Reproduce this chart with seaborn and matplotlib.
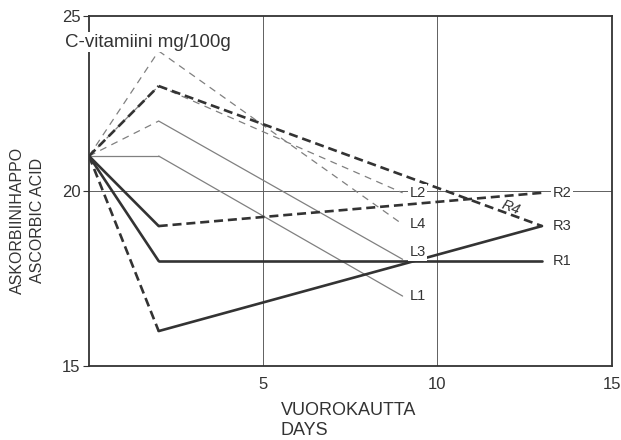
import matplotlib
matplotlib.use("Agg")
import matplotlib.pyplot as plt
import seaborn as sns
import pandas as pd

# ---- data ----
days_L = [0, 2, 9]
L1 = [21.0, 21.0, 17.0]
L2 = [21.0, 23.0, 19.95]
L3 = [21.0, 22.0, 18.05]
L4 = [21.0, 24.0, 19.05]

days_R = [0, 2, 13]
R1 = [21.0, 18.0, 18.0]
R2 = [21.0, 19.0, 19.95]
R3 = [21.0, 16.0, 19.0]
R4 = [21.0, 23.0, 19.0]

x_ticks = [5, 10, 15]
y_ticks = [15, 20, 25]

sns.set_theme(style="white")
plt.rcParams["font.family"] = ["Liberation Sans", "DejaVu Sans"]
plt.rcParams["lines.scale_dashes"] = False

fig = plt.figure(figsize=(6.21, 4.40), dpi=100)
ax = fig.add_axes([0.1433, 0.168, 0.8417, 0.7956])

thin = dict(color="#808080", lw=0.9)
thick = dict(color="#333333", lw=1.9)
dash_thin = (0, (5.0, 4.0))
dash_thick = (0, (6.5, 3.5))

series = [
    (days_L, L1, ["-", "-"], thin, dash_thin),
    (days_L, L2, ["--", "--"], thin, dash_thin),
    (days_L, L3, ["--", "-"], thin, dash_thin),
    (days_L, L4, ["--", "--"], thin, dash_thin),
    (days_R, R1, ["-", "-"], thick, dash_thick),
    (days_R, R2, ["-", "--"], thick, dash_thick),
    (days_R, R3, ["--", "-"], thick, dash_thick),
    (days_R, R4, ["--", "--"], thick, dash_thick),
]

for xs, ys, styles, st, dsh in series:
    for i, s in enumerate(styles):
        seg = pd.DataFrame({"d": xs[i:i + 2], "v": ys[i:i + 2]})
        ls = "-" if s == "-" else dsh
        sns.lineplot(data=seg, x="d", y="v", ax=ax, color=st["color"],
                     lw=st["lw"], linestyle=ls, zorder=3)

# grid lines
for gx in [5, 10]:
    ax.axvline(gx, color="#606060", lw=0.7, zorder=1)
ax.axhline(20, color="#606060", lw=0.7, zorder=1)

ax.set_xlim(0, 15)
ax.set_ylim(15, 25)
ax.set_xticks(x_ticks)
ax.set_yticks(y_ticks)
ax.tick_params(axis="x", length=0, pad=8, labelsize=12, colors="#333333")
ax.tick_params(axis="y", length=4, width=0.8, pad=2, labelsize=12, colors="#333333",
               direction="out", left=True)
for sp in ax.spines.values():
    sp.set_color("#333333")
    sp.set_linewidth(1.3)
ax.set_xlabel("")
ax.set_ylabel("")

# line labels
lab = dict(fontsize=10.5, color="#333333", ha="left", va="center", zorder=4,
           bbox=dict(facecolor="white", edgecolor="none", pad=1.0))
ax.text(9.2, L1[-1], "L1", **lab)
ax.text(9.2, L2[-1], "L2", **lab)
ax.text(9.2, L3[-1] + 0.2, "L3", **lab)
ax.text(9.2, L4[-1], "L4", **lab)
ax.text(13.3, R1[-1], "R1", **lab)
ax.text(13.3, R2[-1], "R2", **lab)
ax.text(13.3, R3[-1], "R3", **lab)
ax.text(12.1, 19.52, "R4", fontsize=10.5, color="#333333", ha="center", va="center",
        rotation=-21, style="italic", zorder=4)

# title-ish label
fig.text(0.1047, 0.9045, "C-vitamiini mg/100g", fontsize=13.5, color="#333333",
         ha="left", va="center",
         bbox=dict(facecolor="white", edgecolor="none", pad=1.0), zorder=5)

# axis labels
fig.text(0.028, 0.5, "ASKORBIINIHAPPO", rotation=90, fontsize=11.5,
         color="#333333", ha="center", va="center")
fig.text(0.061, 0.5, "ASCORBIC ACID", rotation=90, fontsize=11.5,
         color="#333333", ha="center", va="center")
fig.text(0.452, 0.068, "VUOROKAUTTA", fontsize=13, color="#333333", ha="left", va="center")
fig.text(0.452, 0.022, "DAYS", fontsize=13, color="#333333", ha="left", va="center")

fig.savefig("out.png", dpi=100)
